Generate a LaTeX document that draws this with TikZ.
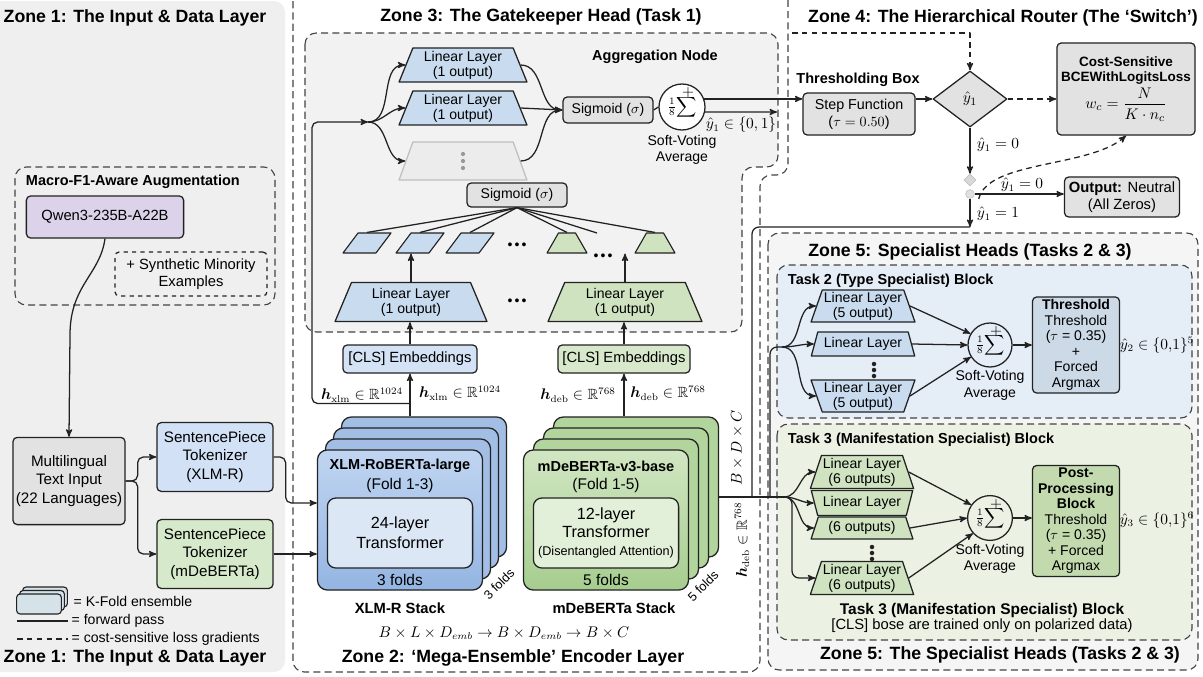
\documentclass[tikz,border=0pt]{standalone}
\usepackage{amsmath,amssymb}
\usepackage[no-math]{fontspec}
\setmainfont{Liberation Sans}
\usepackage{tikz}
\usetikzlibrary{shapes.geometric,arrows,positioning,calc}
\definecolor{linecol}{RGB}{34, 34, 34}
\definecolor{zonegray}{RGB}{239, 239, 239}
\definecolor{headgray}{RGB}{242, 242, 242}
\definecolor{specgray}{RGB}{245, 245, 245}
\definecolor{boxgray}{RGB}{226, 226, 226}
\definecolor{fadegray}{RGB}{236, 236, 236}
\definecolor{taskblue}{RGB}{229, 237, 247}
\definecolor{taskgreen}{RGB}{235, 242, 228}
\definecolor{linblue}{RGB}{201, 220, 239}
\definecolor{lingreen}{RGB}{207, 227, 193}
\definecolor{clsblue}{RGB}{211, 226, 244}
\definecolor{clsgreen}{RGB}{215, 232, 203}
\definecolor{tokblue}{RGB}{210, 225, 245}
\definecolor{tokgreen}{RGB}{214, 233, 203}
\definecolor{xlmback}{RGB}{163, 190, 229}
\definecolor{xlmtop}{RGB}{192, 213, 241}
\definecolor{xlmbot}{RGB}{148, 181, 226}
\definecolor{xlmlight}{RGB}{220, 231, 246}
\definecolor{debback}{RGB}{178, 213, 158}
\definecolor{debtop}{RGB}{209, 230, 194}
\definecolor{debbot}{RGB}{166, 205, 143}
\definecolor{deblight}{RGB}{227, 240, 217}
\definecolor{thrblue}{RGB}{204, 218, 231}
\definecolor{postgreen}{RGB}{195, 218, 175}
\definecolor{qwenpurple}{RGB}{220, 211, 234}
\definecolor{legteal}{RGB}{213, 227, 232}

\begin{document}
\begin{tikzpicture}[x=0.025cm, y=-0.025cm, >=stealth', line join=round,
    line/.style={draw=linecol, line width=0.9pt},
    arr/.style={line, ->},
    gradarr/.style={line, ->, dash pattern=on 4pt off 3pt},
    zonetitle/.style={font=\bfseries\fontsize{12.6}{14}\selectfont},
    blocktitle/.style={font=\bfseries\fontsize{10.3}{12}\selectfont},
    plain/.style={font=\fontsize{10}{11.5}\selectfont, align=center, inner sep=1pt},
    box/.style={draw=linecol, line width=0.9pt, rounded corners=3pt, align=center, inner sep=2pt, font=\fontsize{10}{11.5}\selectfont},
    graybox/.style={box, fill=boxgray},
    linlayer/.style={trapezium, trapezium left angle=70, trapezium right angle=70, trapezium stretches=true, draw=linecol, line width=0.9pt, align=center, inner sep=1pt, font=\fontsize{10}{10.5}\selectfont},
    upside/.style={trapezium left angle=110, trapezium right angle=110},
    sumnode/.style={circle, draw=linecol, line width=0.9pt, inner sep=0pt, align=center, font=\fontsize{10}{10}\selectfont},
    plussign/.style={inner sep=0pt, font=\fontsize{11}{11}\selectfont},
    card/.style={draw=linecol, line width=0.9pt, rounded corners=7pt, minimum width=4.125cm, minimum height=3.5cm},
    smallpar/.style={trapezium, trapezium left angle=50, trapezium right angle=130, trapezium stretches=true, draw=linecol, line width=0.8pt, fill=linblue, minimum width=1.2cm, minimum height=0.5cm, inner sep=3pt},
    smalltrap/.style={trapezium, trapezium left angle=56, trapezium right angle=56, trapezium stretches=true, draw=linecol, line width=0.8pt, fill=lingreen, minimum width=1.0cm, minimum height=0.5cm, inner sep=3pt},
    zonebox/.style={draw=linecol!85, line width=0.8pt, dash pattern=on 5pt off 3pt, rounded corners=8pt}]

    % page and zone frames
    \fill[white] (0,0) rectangle (1203,677);
    \useasboundingbox (0,0) rectangle (1203,677);
    \fill[zonegray, rounded corners=8pt] (-10,1) rectangle (285,672);
    \draw[zonebox] (293,-10) -- (293,672) -- (760,672) -- (760,175) -- (788,175) -- (788,-10);
    \draw[zonebox, fill=headgray] (305,33) -- (305,332) -- (742,332) -- (742,167) -- (778,167) -- (778,33) -- cycle;
    \draw[zonebox, fill=specgray] (768,233) rectangle (1198,670);
    \draw[zonebox, fill=taskblue] (777,265) rectangle (1192,418);
    \draw[zonebox, fill=taskgreen] (777,424) rectangle (1192,640);

    % Zone 1
    \node[zonetitle] (z1title) at (135,18) {Zone 1: The Input \& Data Layer};
    \draw[zonebox] (15,167) rectangle (275,305);
    \node[blocktitle, anchor=west] (augtitle) at (21,182) {Macro-F1-Aware Augmentation};
    \node[box, fill=qwenpurple, minimum width=3.93cm, minimum height=1.05cm, font=\fontsize{10.5}{12}\selectfont] (qwen) at (105,217) {Qwen3-235B-A22B};
    \node[box, dashed, minimum width=3.8cm, minimum height=1.1cm, font=\fontsize{10.5}{12.5}\selectfont] (synth) at (191,274) {+ Synthetic Minority\\Examples};
    \node[graybox, minimum width=2.8cm, minimum height=2.18cm, font=\fontsize{10.8}{13}\selectfont] (input) at (69,481) {Multilingual\\Text Input\\(22 Languages)};
    \node[box, fill=tokblue, minimum width=2.9cm, minimum height=1.72cm, font=\fontsize{10.8}{13}\selectfont] (tokxlm) at (215,457) {SentencePiece\\Tokenizer\\(XLM-R)};
    \node[box, fill=tokgreen, minimum width=2.9cm, minimum height=1.72cm, font=\fontsize{10.8}{13}\selectfont] (tokdeb) at (215,554) {SentencePiece\\Tokenizer\\(mDeBERTa)};
    \draw[arr] (qwen.south) .. controls (100,275) and (70,285) .. (70,335) -- (input.north);
    \draw[arr, rounded corners=4pt] (input.east) -- ++(12,0) |- (tokxlm.west);
    \draw[arr, rounded corners=4pt] (input.east) -- ++(12,0) |- (tokdeb.west);

    % legend
    \foreach \k in {2,1,0}
        \node[draw=linecol, line width=0.8pt, rounded corners=2.5pt, fill=legteal, minimum width=1.12cm, minimum height=0.5cm, inner sep=0pt] (legcard\k) at ($(39,604)+(3*\k,-3.5*\k)$) {};
    \node[plain, anchor=west] (legk) at (72,601) {= K-Fold ensemble};
    \coordinate (legfa) at (17,621);
    \coordinate (legfb) at (68,621);
    \draw[line] (legfa) -- (legfb);
    \node[plain, anchor=west] (legf) at (70,621) {= forward pass};
    \coordinate (legga) at (17,639);
    \coordinate (leggb) at (68,639);
    \draw[line, dash pattern=on 4pt off 3pt] (legga) -- (leggb);
    \node[plain, anchor=west] (legg) at (70,639) {= cost-sensitive loss gradients};
    \node[zonetitle] (z1bottom) at (135,658) {Zone 1: The Input \& Data Layer};

    % Zone 2: encoder stacks
    \foreach \k in {3,2,1}
        \node[card, fill=xlmback] (xlmcard\k) at ($(400,520)+(8*\k,-11*\k)$) {};
    \node[card, top color=xlmtop, bottom color=xlmbot] (xlmfront) at (400,520) {};
    \node[font=\bfseries\fontsize{10.3}{12}\selectfont] (xlmname) at (400,466) {XLM-RoBERTa-large};
    \node[plain, font=\fontsize{11}{12}\selectfont] (xlmfold) at (400,485) {(Fold 1-3)};
    \node[box, fill=xlmlight, rounded corners=6pt, minimum width=3.63cm, minimum height=1.75cm, font=\fontsize{11.5}{14}\selectfont] (xlminner) at (400,533) {24-layer\\Transformer};
    \node[plain, font=\fontsize{11}{12}\selectfont] (xlmfolds) at (400,580) {3 folds};
    \node[plain, rotate=45, inner sep=0pt, font=\fontsize{9}{10}\selectfont] (xlmfoldsr) at (499,584) {3 folds};
    \node[font=\bfseries\fontsize{10.5}{12}\selectfont] (xlmstack) at (400,608) {XLM-R Stack};

    \foreach \k in {3,2,1}
        \node[card, fill=debback] (debcard\k) at ($(606,520)+(10*\k,-11*\k)$) {};
    \node[card, top color=debtop, bottom color=debbot] (debfront) at (606,520) {};
    \node[font=\bfseries\fontsize{10.3}{12}\selectfont] (debname) at (606,466) {mDeBERTa-v3-base};
    \node[plain, font=\fontsize{11}{12}\selectfont] (debfold) at (606,485) {(Fold 1-5)};
    \node[box, fill=deblight, rounded corners=6pt, minimum width=3.63cm, minimum height=1.75cm, font=\fontsize{11.5}{13}\selectfont] (debinner) at (606,533) {12-layer\\Transformer\\{\fontsize{9}{10}\selectfont(Disentangled Attention)}};
    \node[plain, font=\fontsize{11}{12}\selectfont] (debfolds) at (606,580) {5 folds};
    \node[plain, rotate=45, inner sep=0pt, font=\fontsize{9}{10}\selectfont] (debfoldsr) at (703,586) {5 folds};
    \node[font=\bfseries\fontsize{10.5}{12}\selectfont] (debstack) at (614,608) {mDeBERTa Stack};

    \node[plain, font=\fontsize{10.5}{12}\selectfont] (dimeq) at (504,633) {$B\times L\times D_{emb}\rightarrow B\times D_{emb}\rightarrow B\times C$};
    \node[zonetitle] (z2title) at (513,658) {Zone 2: ‘Mega-Ensemble’ Encoder Layer};

    \draw[arr, rounded corners=4pt] (tokxlm.east) -- ++(12,0) |- ($(xlmfront.west)+(0,-17)$);
    \draw[arr] (tokdeb.east) -- (tokdeb.east -| xlmfront.west);

    % CLS embeddings
    \node[box, fill=clsblue, minimum width=3.35cm, minimum height=0.7cm, font=\fontsize{10.5}{12}\selectfont] (xlmcls) at (410,359) {[CLS] Embeddings};
    \node[box, fill=clsgreen, minimum width=3.3cm, minimum height=0.7cm, font=\fontsize{10.5}{12}\selectfont] (debcls) at (624,359) {[CLS] Embeddings};
    \draw[arr] (xlmcls.south |- xlmcard3.north) -- (xlmcls.south);
    \draw[arr] (debcls.south |- debcard3.north) -- (debcls.south);
    \node[plain, font=\fontsize{10.5}{12}\selectfont] (hxlma) at (362,395) {$\boldsymbol{h}_{\mathrm{xlm}}\in\mathbb{R}^{1024}$};
    \node[plain, font=\fontsize{10.5}{12}\selectfont] (hxlmb) at (460,393) {$\boldsymbol{h}_{\mathrm{xlm}}\in\mathbb{R}^{1024}$};
    \node[plain, font=\fontsize{10.5}{12}\selectfont] (hdeba) at (578,395) {$\boldsymbol{h}_{\mathrm{deb}}\in\mathbb{R}^{768}$};
    \node[plain, font=\fontsize{10.5}{12}\selectfont] (hdebb) at (668,393) {$\boldsymbol{h}_{\mathrm{deb}}\in\mathbb{R}^{768}$};

    % Zone 3: gatekeeper head
    \node[zonetitle] (z3title) at (541,17) {Zone 3: The Gatekeeper Head (Task 1)};
    \node[blocktitle] (aggtitle) at (655,57) {Aggregation Node};
    \node[linlayer, fill=linblue, minimum width=3.2cm, minimum height=0.85cm] (gl1) at (463,65) {Linear Layer\\(1 output)};
    \node[linlayer, fill=linblue, minimum width=3.2cm, minimum height=0.85cm] (gl2) at (463,108) {Linear Layer\\(1 output)};
    \node[linlayer, fill=fadegray, draw=black!25, minimum width=3.2cm, minimum height=0.95cm] (gl3) at (463,161) {\phantom{Linear Layer}\\\phantom{(1 output)}};
    \foreach \dy in {-7,0,7}
        \fill[black!40] ($(gl3.center)+(0,\dy)$) circle (1.5pt);
    \node[graybox, minimum width=2.25cm, minimum height=0.65cm] (sigagg) at (608,110) {Sigmoid ($\sigma$)};
    \node[sumnode, fill=white, minimum size=1.15cm] (gsum) at (682,107) {\raisebox{-3pt}{$\tfrac{1}{8}\!\displaystyle\sum$}};
    \node[plussign] (gplus) at ($(gsum.center)+(6,-14)$) {$+$};
    \node[plain, below=2pt of gsum] (gsoft) {Soft-Voting\\Average};
    \coordinate (gsplit) at (368,122);
    \coordinate (gexit) at (777,112);
    \coordinate (xlmtap) at ($(xlmcls.south)!0.7!(xlmcls.south |- xlmcard3.north)$);
    \draw[arr, rounded corners=4pt] (xlmtap) -| (312,122) -- (gsplit);
    \foreach \t in {gl1,gl2,gl3}
        \draw[arr] (gsplit) to[out=0, in=180] (\t.west);
    \draw[arr] (gl1.east) to[out=0, in=180] (sigagg.west);
    \draw[arr] (gl2.east) -- (sigagg.west);
    \draw[arr] (gl3.east) to[out=0, in=180] (sigagg.west);
    \draw[line] (sigagg.east) -- (gsum.west);
    \draw[arr] (gsum.-12) -- (gexit);
    \node[plain, font=\fontsize{10.5}{12}\selectfont] (gy1) at (741,125) {$\hat{y}_1 \in \{0,1\}$};

    \node[graybox, minimum width=2.5cm, minimum height=0.6cm] (sigbase) at (517,195) {Sigmoid ($\sigma$)};
    \node[smallpar] (bp1) at (367,243) {};
    \node[smallpar] (bp2) at (420,243) {};
    \node[smallpar] (bp3) at (470,243) {};
    \node[plain, font=\fontsize{10}{10}\selectfont] (bpdots) at (517,246) {•\hspace{1.5pt}•\hspace{1.5pt}•};
    \node[smalltrap] (gp1) at (567,243) {};
    \node[plain, font=\fontsize{10}{10}\selectfont] (gpdots) at (603,257) {•\hspace{1.5pt}•\hspace{1.5pt}•};
    \node[smalltrap] (gp2) at (655,243) {};
    \coordinate (gpline) at (597,233);
    \foreach \t in {bp1,bp2,bp3,gp1,gp2}
        \draw[line] (sigbase.south) -- (\t.north);
    \draw[line] (sigbase.south) -- (gpline);

    \node[linlayer, fill=linblue, minimum width=3.8cm, minimum height=0.975cm] (xlmlin) at (411,302) {Linear Layer\\(1 output)};
    \node[plain, font=\fontsize{10}{10}\selectfont] (lindots) at (517,302) {•\hspace{1.5pt}•\hspace{1.5pt}•};
    \node[linlayer, fill=lingreen, minimum width=3.85cm, minimum height=0.975cm] (deblin) at (625,302) {Linear Layer\\(1 output)};
    \draw[arr] (xlmlin.north) -- (xlmlin.north |- bp2.south);
    \draw[arr] (deblin.north) -- (deblin.north |- gp1.south);
    \draw[arr] (xlmcls.north) -- (xlmcls.north |- xlmlin.south);
    \draw[arr] (debcls.north) -- (debcls.north |- deblin.south);

    % Zone 4: router
    \node[zonetitle] (z4title) at (1003,18) {Zone 4: The Hierarchical Router (The ‘Switch’)};
    \node[blocktitle] (threshtitle) at (858,80) {Thresholding Box};
    \node[graybox, minimum width=2.8cm, minimum height=1.05cm, font=\fontsize{10.2}{12}\selectfont] (step) at (859,114) {Step Function\\($\tau = 0.50$)};
    \node[diamond, draw=linecol, line width=0.9pt, fill=boxgray, aspect=1.3, minimum width=1.85cm, minimum height=1.4cm, inner sep=0pt, font=\fontsize{11}{12}\selectfont] (router) at (970,99) {$\hat{y}_1$};
    \node[graybox, minimum width=3.45cm, minimum height=2.3cm, inner sep=1pt, font=\bfseries\fontsize{9.6}{11}\selectfont] (cost) at (1126,89) {Cost-Sensitive\\BCEWithLogitsLoss\\[1pt]{\normalfont\fontsize{11}{12}\selectfont$w_c=\dfrac{N}{K\cdot n_c}$}};
    \node[diamond, draw=black!25, fill=black!15, minimum size=0.3cm, inner sep=0pt] (rjunc) at (970,180) {};
    \node[circle, draw=black!25, fill=black!12, minimum size=0.22cm, inner sep=0pt] (rdot) at (970,194) {};
    \node[graybox, minimum width=2.875cm, minimum height=1.0cm, font=\fontsize{10.5}{12.5}\selectfont] (neutral) at (1122,197) {\textbf{Output:} Neutral\\(All Zeros)};
    \coordinate (gradtop) at (792,33);
    \coordinate (rturn) at (970,227);
    \coordinate (busx) at (752,497);
    \draw[arr] (gsum.20) -- (gsum.20 -| step.west);
    \draw[arr] (router.west -| step.east) -- (router.west);
    \draw[gradarr] (router.east) -- (router.east -| cost.west);
    \draw[gradarr] (gradtop) -| (router.north);
    \draw[arr] (router.south) -- (rjunc.north);
    \draw[arr] (rdot.east) -- (rdot.east -| neutral.west);
    \draw[arr] (rdot.south) -- (rturn);
    \draw[gradarr] ($(rdot.east)+(4,5)$) .. controls (988,160) and (1090,168) .. (cost.south);
    \node[plain, font=\fontsize{10.5}{12}\selectfont] (ry0) at (998,145) {$\hat{y}_1 = 0$};
    \node[plain, font=\fontsize{10.5}{12}\selectfont] (ry0b) at (1022,185) {$\hat{y}_1 = 0$};
    \node[plain, font=\fontsize{10.5}{12}\selectfont] (ry1) at (998,214) {$\hat{y}_1 = 1$};

    % bus into Zone 5
    \coordinate (t3split) at (784,497);
    \coordinate (t2split) at (782,347);
    \coordinate (busup) at (770,497);
    \draw[line] (debcard3.east |- t3split) -- (t3split);
    \draw[line, rounded corners=5pt] (rturn) -| (busx);
    \draw[line, rounded corners=5pt] (busup) |- (t2split);
    \node[plain, rotate=90, font=\fontsize{10.5}{12}\selectfont] (bdc) at (737,448) {$B\times D\times C$};
    \node[plain, rotate=90, font=\fontsize{10.5}{12}\selectfont] (hdebv) at (742,540) {$\boldsymbol{h}_{\mathrm{deb}}\in\mathbb{R}^{768}$};

    % Zone 5: Task 2
    \node[zonetitle] (z5title) at (970,252) {Zone 5: Specialist Heads (Tasks 2 \& 3)};
    \node[blocktitle, anchor=west] (t2title) at (783,281) {Task 2 (Type Specialist) Block};
    \node[linlayer, fill=linblue, minimum width=2.6cm, minimum height=0.8cm] (t2l1) at (863,306) {Linear Layer\\(5 output)};
    \node[linlayer, fill=linblue, minimum width=2.6cm, minimum height=0.6cm] (t2l2) at (863,344) {Linear Layer};
    \foreach \dy in {-6,0,6}
        \fill[linecol] (874,370+\dy) circle (1.6pt);
    \node[linlayer, upside, fill=linblue, minimum width=2.6cm, minimum height=0.8cm] (t2l3) at (863,396) {Linear Layer\\(5 output)};
    \node[sumnode, fill=taskblue, minimum size=1.1cm] (t2sum) at (990,345) {\raisebox{-3pt}{$\tfrac{1}{8}\!\displaystyle\sum$}};
    \node[plussign] (t2plus) at ($(t2sum.center)+(6,-13)$) {$+$};
    \node[plain, below=1pt of t2sum] (t2soft) {Soft-Voting\\Average};
    \node[box, fill=thrblue, minimum width=2.175cm, minimum height=2.375cm, font=\fontsize{10}{11}\selectfont] (t2thr) at (1076,345) {\textbf{Threshold}\\Threshold\\($\tau$ = 0.35)\\+\\Forced\\Argmax};
    \node[plain, font=\fontsize{10.5}{12}\selectfont] (t2out) at (1157,345) {$\hat{y}_2 \in \{0{,}1\}^5$};
    \foreach \t in {t2l1,t2l2,t2l3}
        \draw[arr] (t2split) to[out=0, in=180] (\t.west);
    \draw[arr] (t2l1.east) -- (t2sum.150);
    \draw[arr] (t2l2.east) -- (t2sum.west);
    \draw[arr] (t2l3.east) -- (t2sum.212);
    \draw[arr] (t2sum.east) -- (t2thr.west);

    % Zone 5: Task 3
    \node[blocktitle, anchor=west] (t3title) at (783,440) {Task 3 (Manifestation Specialist) Block};
    \node[linlayer, fill=lingreen, minimum width=2.55cm, minimum height=0.83cm] (t3l1) at (862,472) {Linear Layer\\(6 outputs)};
    \node[linlayer, upside, fill=lingreen, minimum width=2.55cm, minimum height=0.62cm] (t3l2) at (862,503) {Linear Layer};
    \node[linlayer, fill=lingreen, minimum width=2.55cm, minimum height=0.55cm] (t3l3) at (862,528) {(6 outputs)};
    \foreach \dy in {-6,0,6}
        \fill[linecol] (872,553+\dy) circle (1.6pt);
    \node[linlayer, fill=lingreen, minimum width=2.55cm, minimum height=0.83cm] (t3l4) at (862,578) {Linear Layer\\(6 outputs)};
    \node[sumnode, fill=taskgreen, minimum size=1.12cm] (t3sum) at (990,518) {\raisebox{-3pt}{$\tfrac{1}{8}\!\displaystyle\sum$}};
    \node[plussign] (t3plus) at ($(t3sum.center)+(6,-13)$) {$+$};
    \node[plain, below=1pt of t3sum] (t3soft) {Soft-Voting\\Average};
    \node[box, fill=postgreen, minimum width=2.175cm, minimum height=2.7cm, font=\fontsize{10}{11}\selectfont] (t3post) at (1076,521) {\textbf{Post-}\\\textbf{Processing}\\\textbf{Block}\\Threshold\\($\tau$ = 0.35)\\+ Forced\\Argmax};
    \node[plain, font=\fontsize{10.5}{12}\selectfont] (t3out) at (1157,520) {$\hat{y}_3 \in \{0{,}1\}^6$};
    \draw[arr] (t3split) to[out=0, in=180] (t3l1.west);
    \draw[arr] (t3split) to[out=0, in=180] (t3l2.west);
    \draw[arr] (t3split) to[out=0, in=180] (t3l3.west);
    \draw[arr, rounded corners=5pt] (t3split) -- ++(8,0) |- (t3l4.west);
    \draw[arr] (t3l1.east) -- (t3sum.145);
    \draw[arr] (t3l3.east) -- (t3sum.west);
    \draw[arr] (t3l4.east) -- (t3sum.222);
    \draw[arr] (t3sum.east) -- (t3sum.east -| t3post.west);
    \node[font=\bfseries\fontsize{11}{13}\selectfont] (t3foot) at (982,610) {Task 3 (Manifestation Specialist) Block};
    \node[plain, font=\fontsize{10.5}{12}\selectfont] (t3note) at (982,626) {[CLS] bose are trained only on polarized data)};
    \node[zonetitle] (z5bottom) at (1000,655) {Zone 5: The Specialist Heads (Tasks 2 \& 3)};
\end{tikzpicture}
\end{document}
